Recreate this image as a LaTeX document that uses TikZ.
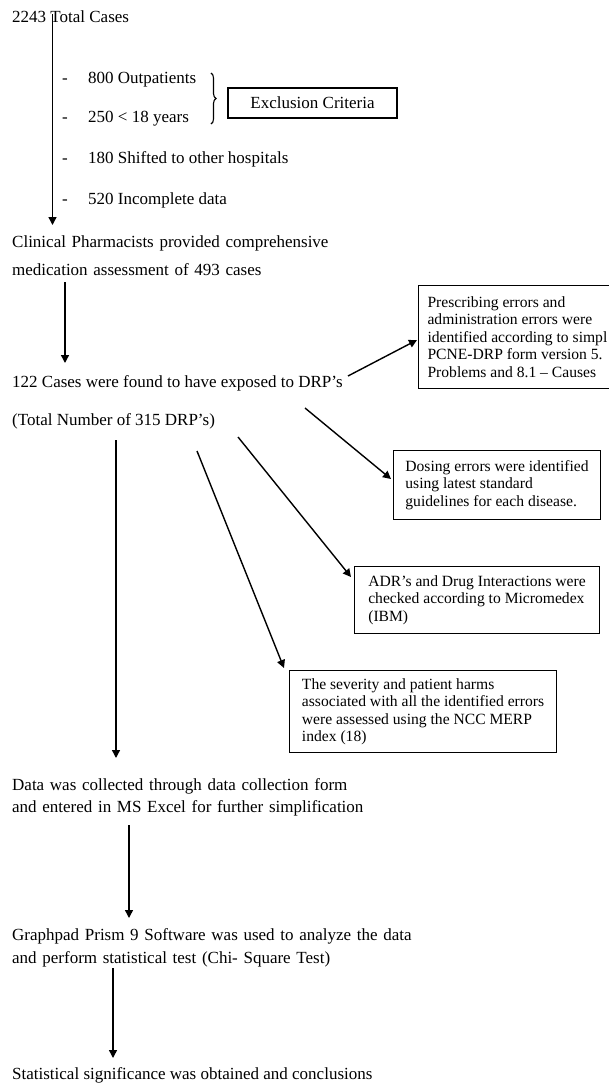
\documentclass[tikz,border=0pt]{standalone}
\usepackage{fontspec}
\setmainfont{Liberation Serif}
\usetikzlibrary{arrows.meta,decorations.pathreplacing,calc}
\tikzset{
  main/.style={inner sep=0pt, anchor=base west, font=\fontsize{17}{22}\selectfont},
  mainml/.style={main, text width=420pt, align=left},
  infobox/.style={draw, line width=1.1pt, anchor=north west, inner xsep=11pt, inner ysep=0pt,
     align=left, font=\fontsize{15.6}{17.5}\selectfont},
  flow/.style={line width=1.4pt, -{Triangle[length=8pt,width=8pt]}},
}
\begin{document}
\begin{tikzpicture}[x=1pt,y=-1pt]
\useasboundingbox (0,0) rectangle (609,1084);
\clip (0,0) rectangle (609,1084);
% main text
\node[main] (total) at (12,23) {2243 Total Cases};
\node[main] (i1) at (62,83) {\makebox[26pt][l]{-}800 Outpatients};
\node[main] (i2) at (62,122) {\makebox[26pt][l]{-}250 < 18 years};
\node[main] (i3) at (62,163) {\makebox[26pt][l]{-}180 Shifted to other hospitals};
\node[main] (i4) at (62,204) {\makebox[26pt][l]{-}520 Incomplete data};
\node[draw, line width=1.1pt, minimum width=169pt, minimum height=30pt, inner sep=0pt,
      font=\fontsize{17}{22}\selectfont] (excl) at (312.5,103) {Exclusion Criteria};
\draw[line width=1.1pt, decorate, decoration={brace, amplitude=5pt}] (211,73) -- (211,124)
  coordinate[midway] (bracetip);
\node[mainml, font=\fontsize{17}{28}\selectfont] (clin) at (12,247)
  {Clinical Pharmacists provided comprehensive\\ medication assessment of 493 cases};
\node[main] (drp) at (12,387) {122 Cases were found to have exposed to DRP’s};
\node[main] (tot315) at (12,425) {(Total Number of 315 DRP’s)};
\node[mainml] (data) at (12,790)
  {Data was collected through data collection form\\ and entered in MS Excel for further simplification};
\node[mainml, font=\fontsize{17}{23}\selectfont] (graph) at (12,940)
  {Graphpad Prism 9 Software was used to analyze the data\\ and perform statistical test (Chi- Square Test)};
\node[main] (stat) at (12,1079) {Statistical significance was obtained and conclusions};
% boxes
\node[infobox, inner xsep=9pt, minimum height=103pt] (presc) at (418,285)
  {Prescribing errors and\\ administration errors were\\ identified according to simpl\\ PCNE-DRP form version 5.\\ Problems and 8.1 – Causes};
\node[infobox, minimum width=207pt, minimum height=69pt] (dose) at (393,450)
  {Dosing errors were identified\\ using latest standard\\ guidelines for each disease.};
\node[infobox, minimum width=245pt, minimum height=67pt, inner xsep=13pt] (adr) at (354,566)
  {ADR’s and Drug Interactions were\\ checked according to Micromedex\\ (IBM)};
\node[infobox, minimum width=267pt, minimum height=82pt, inner xsep=12pt] (sev) at (289,670)
  {The severity and patient harms\\ associated with all the identified errors\\ were assessed using the NCC MERP\\ index (18)};
% connector coordinates
\coordinate (a1s) at (52.5,14);
\coordinate (a1e) at (52.5,225);
\coordinate (a2s) at (65,282);
\coordinate (a2e) at (65,363);
\coordinate (a3s) at (348,376);
\coordinate (a4s) at (305,408);
\coordinate (a5s) at (238,437);
\coordinate (a6s) at (197,451);
\coordinate (a7s) at (116,440);
\coordinate (a7e) at (116,758);
\coordinate (a8s) at (129,825);
\coordinate (a8e) at (129,918);
\coordinate (a9s) at (113,968);
\coordinate (a9e) at (113,1058);
% connectors
\draw[flow] (a1s) -- (a1e);
\draw[flow] (a2s) -- (a2e);
\draw[flow] (a3s) -- ($(presc.north west)+(-1,55)$);
\draw[flow] (a4s) -- ($(dose.north west)+(-2,29)$);
\draw[flow] (a5s) -- ($(adr.north west)+(-3,11)$);
\draw[flow] (a6s) -- ($(sev.north west)+(-5,-2)$);
\draw[flow] (a7s) -- (a7e);
\draw[flow] (a8s) -- (a8e);
\draw[flow] (a9s) -- (a9e);
\end{tikzpicture}
\end{document}
